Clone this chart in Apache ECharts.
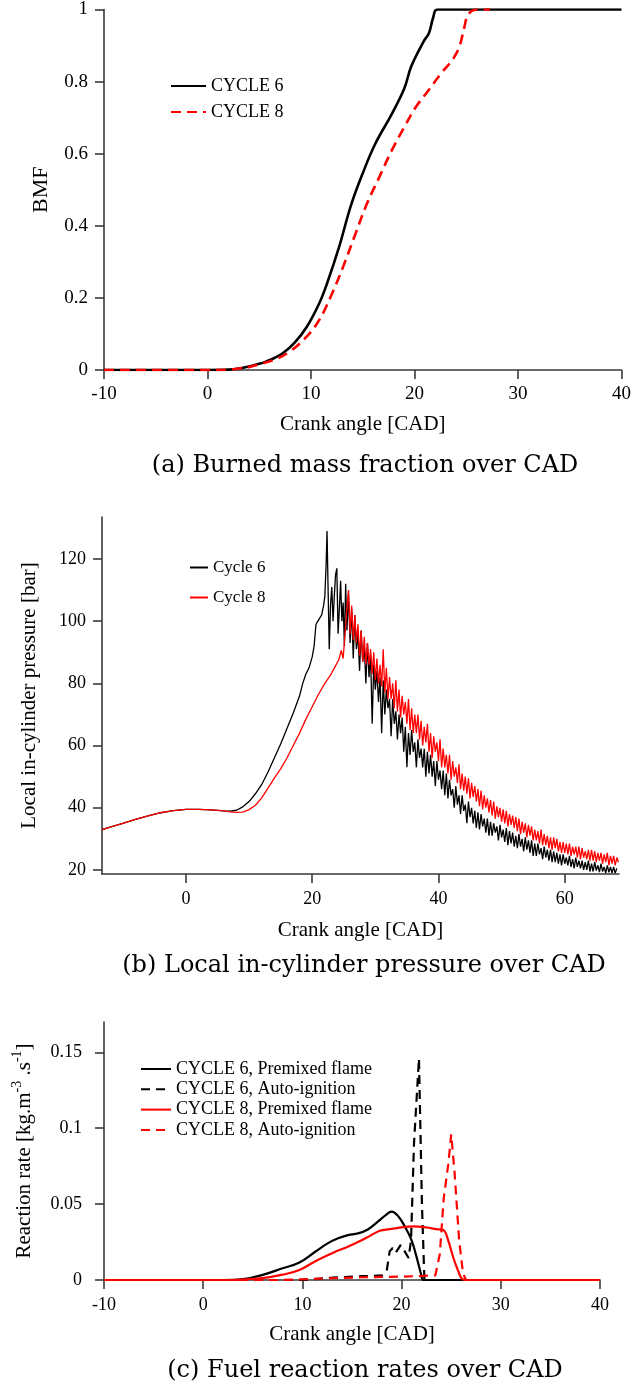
<!DOCTYPE html>
<html><head><meta charset="utf-8">
<script src="https://cdn.jsdelivr.net/npm/echarts@6/dist/echarts.min.js"></script>
<style>html,body{margin:0;padding:0;background:#fff}#c{width:634px;height:1389px}</style>
</head><body><div id="c"></div>
<script>
// ---------- (a) Burned mass fraction ----------
const bmfCycle6 = [[-10,0],[0,0],[2,0.001],[3,0.004],[4,0.01],[5,0.017],[5.7,0.024],[6.5,0.034],[7.3,0.047],[8.4,0.075],[9.6,0.12],[10.8,0.185],[11.55,0.24],[12.7,0.34],[13.9,0.46],[15.1,0.553],[16.2,0.627],[17.8,0.71],[19.0,0.78],[19.7,0.843],[20.9,0.912],[21.4,0.935],[21.8,0.977],[22.2,1.0],[40,1.0]];
const bmfCycle8 = [[-10,0],[0,0],[2,0.001],[3,0.004],[4,0.008],[4.9,0.015],[6.5,0.029],[8.0,0.052],[9.6,0.093],[10.8,0.139],[11.9,0.203],[13.1,0.286],[14.3,0.378],[15.4,0.461],[16.6,0.535],[17.8,0.609],[19.0,0.673],[20.1,0.728],[21.3,0.774],[22.5,0.82],[23.8,0.866],[24.4,0.903],[24.8,0.949],[25.2,0.986],[26.0,1.0],[27.3,1.0]];

// ---------- (b) Local in-cylinder pressure ----------
const pressC6Rise = [[-13.3,33.0],[-12,33.8],[-10,35.0],[-8,36.3],[-6,37.4],[-4,38.4],[-2,39.1],[0,39.5],[2,39.5],[4,39.3],[6,39.0],[7,38.9],[8,39.2],[9,40.3],[10,42.0],[11,44.5],[12,47.5],[13,51.5],[14,56.0],[15,60.5],[16,65.5],[17,70.5],[18,76],[18.5,80],[19,83],[19.5,85],[20,88.5],[20.3,92],[20.6,99],[20.9,100],[21.2,99.5],[21.5,102],[21.8,105],[22.0,108],[22.2,118],[22.35,129],[22.5,112],[22.7,91],[22.9,105],[23.1,111],[23.3,100],[23.5,108],[23.7,115],[23.9,117],[24.1,96],[24.3,104],[24.5,113],[24.7,100],[24.9,106],[25.1,92],[25.3,112]];
const pressC6TailStart = 25.5, pressC6TailStep = 0.25;
const pressC6Tail = [97,109,93,104, 88,102,91,96, 84,97,87,92, 80,93,82,89, 67,86,78,84, 74,82,64,81, 70,78,72,75, 63,75,67,71, 62,70,64,69, 58,66,53,64,
  57,65,58,61, 53,62,56,59, 53,59,50,58, 51,57,50,55, 47,55,49,52, 46,52,44,51, 43,49,44,46, 40,47,41,44, 38,44,39,41, 35,42,37,40,
  35,39,33.5,38.5, 33,38,34,36.5, 32,36.5,31,35.5, 31,35,32,34, 29.5,34.5,30.5,33, 29,33.5,28,32.5, 28.5,32,27.5,31, 27,31.5,27.5,30, 26,30.5,26.5,29.5, 25.5,29.5,24.5,28.5,
  24.5,28.5,25,27, 23.5,27.5,24,26.5, 23,26.5,22.5,26, 22.5,25.5,22,25, 21.5,25,22,24, 21.5,24.5,21,23.5, 20.5,24,21,23, 20.5,23,20,22.5, 20,23,19.5,22, 19.5,22.5,19.8,21.5,
  19.3,22,19.5,21, 19,21.5,19.2,21, 19,21,19,20.5];
const pressC8Rise = [[-13.3,33.0],[-12,33.8],[-10,35.0],[-8,36.3],[-6,37.4],[-4,38.4],[-2,39.1],[0,39.5],[2,39.5],[4,39.3],[6,39.0],[7,38.7],[8,38.5],[9,38.6],[10,39.4],[11,40.8],[12,43.2],[13,46.3],[14,49.5],[15,52.5],[16,56],[17,60],[18,64],[19,68.5],[20,72.5],[21,76.5],[22,80],[23,83],[23.6,85.3],[24.2,87.5],[24.6,90.6],[24.9,88],[25.2,96],[25.5,104]];
const pressC8TailStart = 25.75, pressC8TailStep = 0.25;
const pressC8Tail = [110,96,105,94, 102,93,99,89, 97,87,95,86, 93,86,91,83, 90,81,88,80, 86,79,91,77, 85,75,82,75, 80,72,81,71, 78,69,76,70, 74,67,75,65,
  72,64,70,64, 70,62,68,60, 66,61,67,58, 64,56,63,58, 61,55,62,53, 59,53,57,51, 57,49,55,50, 53,48,54,46, 51,45.5,50,44.5, 49.5,43,48,43.5,
  47,42,46,40.5, 45.5,39.5,44,40, 43,38.5,42.5,37.5, 42,36.5,40.5,37, 40,35.5,39.5,35, 39,34,38,34.5, 37.5,33.5,37,32.5, 36.5,31.5,35.5,32, 35,30.5,34.5,31, 34,29.5,33,29.5,
  32.5,28.5,33,28, 31.5,28,31,27, 30.5,26.5,30.5,27, 30,26,29,25.5, 29,25.5,28.5,25, 28.5,24.5,27.5,25, 27.5,24,27.5,23.5, 27,24,26,23.5, 26.5,23,26.5,23, 26,22.5,25.5,23,
  25.5,22,25,22.5, 25.5,21.5,24.5,22, 24.5,21.5,24,22.5];

// ---------- (c) Fuel reaction rates ----------
const rateC6Premixed = [[-10,0],[2,0],[4,0.0006],[6,0.0034],[8,0.0077],[9.7,0.0115],[11.3,0.0186],[12.5,0.024],[13.6,0.0275],[14.6,0.0296],[15.6,0.0307],[16.6,0.0333],[17.6,0.0384],[18.4,0.0428],[19.0,0.045],[19.7,0.0417],[20.3,0.0355],[21.0,0.0263],[21.5,0.0154],[22.0,0.003],[22.2,0],[40,0]];
const rateC6Auto = [[-10,0],[10,0],[13,0.0015],[16,0.0025],[18,0.003],[18.5,0.006],[18.8,0.019],[19.1,0.021],[19.4,0.018],[19.9,0.023],[20.3,0.019],[20.7,0.0145],[20.95,0.026],[21.25,0.09],[21.75,0.146],[22.05,0.05],[22.3,0],[40,0]];
const rateC8Premixed = [[-10,0],[3,0],[4,0.0003],[6,0.0012],[8,0.0035],[9.7,0.0066],[11.4,0.0127],[13.1,0.018],[14.8,0.0226],[16.5,0.028],[17.8,0.0325],[18.8,0.0335],[19.8,0.0345],[21.2,0.0353],[22.5,0.0346],[23.5,0.0335],[24.2,0.033],[24.7,0.026],[25.2,0.015],[25.7,0.006],[26.1,0.0007],[26.5,0],[40,0]];
const rateC8Auto = [[-10,0],[8,0],[12,0.001],[16,0.0018],[20,0.0022],[23.4,0.003],[23.85,0.017],[24.25,0.054],[24.7,0.076],[25.0,0.096],[25.35,0.07],[25.8,0.026],[26.2,0.004],[26.5,0],[40,0]];

const xTicksB = [0,20,40,60];
const yTicksB = [20,40,60,80,100,120];
const yTicksC = [0,0.05,0.1,0.15];
const captions = ['(a) Burned mass fraction over CAD','(b) Local in-cylinder pressure over CAD','(c) Fuel reaction rates over CAD'];

function tail(start, step, ys){ return ys.map((y,i)=>[+(start+i*step).toFixed(3), y]); }
const pressC6 = pressC6Rise.concat(tail(pressC6TailStart, pressC6TailStep, pressC6Tail));
const pressC8 = pressC8Rise.concat(tail(pressC8TailStart, pressC8TailStep, pressC8Tail));

const SERIF = 'Liberation Serif';
const AX = '#3a3a3a';
function axisBase(extra){
  return Object.assign({
    type:'value', splitLine:{show:false},
    axisLine:{show:true,onZero:false,lineStyle:{color:AX,width:1.6}},
    axisTick:{show:true,inside:false,length:9,lineStyle:{color:AX,width:1.6}},
    nameLocation:'middle',
    nameTextStyle:{fontFamily:SERIF,fontSize:21,color:'#000'}
  }, extra);
}
function lbl(extra){ return Object.assign({color:'#000',fontFamily:SERIF,fontSize:19}, extra); }
function line(name, data, xi, color, width, type, smooth){
  return {name, type:'line', data, xAxisIndex:xi, yAxisIndex:xi, symbol:'none', showSymbol:false,
    smooth: smooth||false, animation:false, silent:true,
    lineStyle:{color, width, type:type||'solid'}, itemStyle:{color}};
}
const legendItem = {opacity:0, borderWidth:0};

const chart = echarts.init(document.getElementById('c'), null, {renderer:'canvas'});
chart.setOption({
  backgroundColor:'#fff',
  animation:false,
  grid:[
    {left:104, top:8, width:519, height:362},
    {left:102, top:517, width:517, height:357},
    {left:104, top:1022, width:496, height:258}
  ],
  xAxis:[
    axisBase({gridIndex:0, min:-10, max:40, interval:10, name:'Crank angle [CAD]', nameGap:44, axisLabel:lbl({margin:15})}),
    axisBase({gridIndex:1, min:-13.3, max:68.6, name:'Crank angle [CAD]', nameGap:46,
      axisLabel:lbl({margin:16, fontSize:18, customValues:xTicksB}), axisTick:{show:true,length:9,lineStyle:{color:AX,width:1.6},customValues:xTicksB}}),
    axisBase({gridIndex:2, min:-10, max:40, interval:10, name:'Crank angle [CAD]', nameGap:44, axisLabel:lbl({margin:16, fontSize:18})})
  ],
  yAxis:[
    axisBase({gridIndex:0, min:0, max:1, interval:0.2, name:'BMF', nameGap:52, nameTextStyle:{fontFamily:SERIF,fontSize:22,color:'#000'}, axisLabel:lbl({margin:16})}),
    axisBase({gridIndex:1, min:18.7, max:133.5, name:'Local in-cylinder pressure [bar]', nameGap:62,
      axisLabel:lbl({margin:16, fontSize:18, customValues:yTicksB}), axisTick:{show:true,length:9,lineStyle:{color:AX,width:1.6},customValues:yTicksB}}),
    axisBase({gridIndex:2, min:0, max:0.17, name:'Reaction rate [kg.m{sup|-3} .s{sup|-1}]', nameGap:66,
      nameTextStyle:{fontFamily:SERIF,fontSize:21,color:'#000',lineHeight:28,rich:{sup:{fontFamily:SERIF,fontSize:14,verticalAlign:'top',lineHeight:28,color:'#000'}}},
      axisLabel:lbl({margin:22, fontSize:18, customValues:yTicksC}), axisTick:{show:true,length:9,lineStyle:{color:AX,width:1.6},customValues:yTicksC}})
  ],
  legend:[
    {data:['CYCLE 6','CYCLE 8'], orient:'vertical', left:165, top:72, itemWidth:35, itemHeight:14, itemGap:8, itemStyle:legendItem,
      textStyle:{fontFamily:SERIF,fontSize:18,color:'#000'}},
    {data:['Cycle 6','Cycle 8'], orient:'vertical', left:184, top:554, itemWidth:18, itemHeight:14, itemGap:13, itemStyle:legendItem,
      textStyle:{fontFamily:SERIF,fontSize:17,color:'#000'}},
    {data:['CYCLE 6, Premixed flame','CYCLE 6, Auto-ignition','CYCLE 8, Premixed flame','CYCLE 8, Auto-ignition'], orient:'vertical', left:135, top:1055, itemWidth:30, itemHeight:14, itemGap:2.3, itemStyle:legendItem,
      textStyle:{fontFamily:SERIF,fontSize:18,color:'#000'}}
  ],
  series:[
    line('CYCLE 6', bmfCycle6, 0, '#000', 2.6, 'solid', 0.4),
    line('CYCLE 8', bmfCycle8, 0, '#ff0000', 2.6, [10,6], 0.4),
    line('Cycle 6', pressC6, 1, '#000', 1.3),
    line('Cycle 8', pressC8, 1, '#ff0000', 1.3),
    line('CYCLE 6, Premixed flame', rateC6Premixed, 2, '#000', 2.2, 'solid', 0.4),
    line('CYCLE 6, Auto-ignition', rateC6Auto, 2, '#000', 2.2, [9,6]),
    line('CYCLE 8, Premixed flame', rateC8Premixed, 2, '#ff0000', 2.2, 'solid', 0.4),
    line('CYCLE 8, Auto-ignition', rateC8Auto, 2, '#ff0000', 2.2, [9,6])
  ],
  graphic:[
    {type:'text', x:365, y:466, style:{text:captions[0], fontFamily:'DejaVu Serif', fontSize:24, fill:'#000', align:'center', verticalAlign:'middle'}},
    {type:'text', x:364, y:966, style:{text:captions[1], fontFamily:'DejaVu Serif', fontSize:24, fill:'#000', align:'center', verticalAlign:'middle'}},
    {type:'text', x:365, y:1371, style:{text:captions[2], fontFamily:'DejaVu Serif', fontSize:24, fill:'#000', align:'center', verticalAlign:'middle'}}
  ]
});
</script></body></html>
